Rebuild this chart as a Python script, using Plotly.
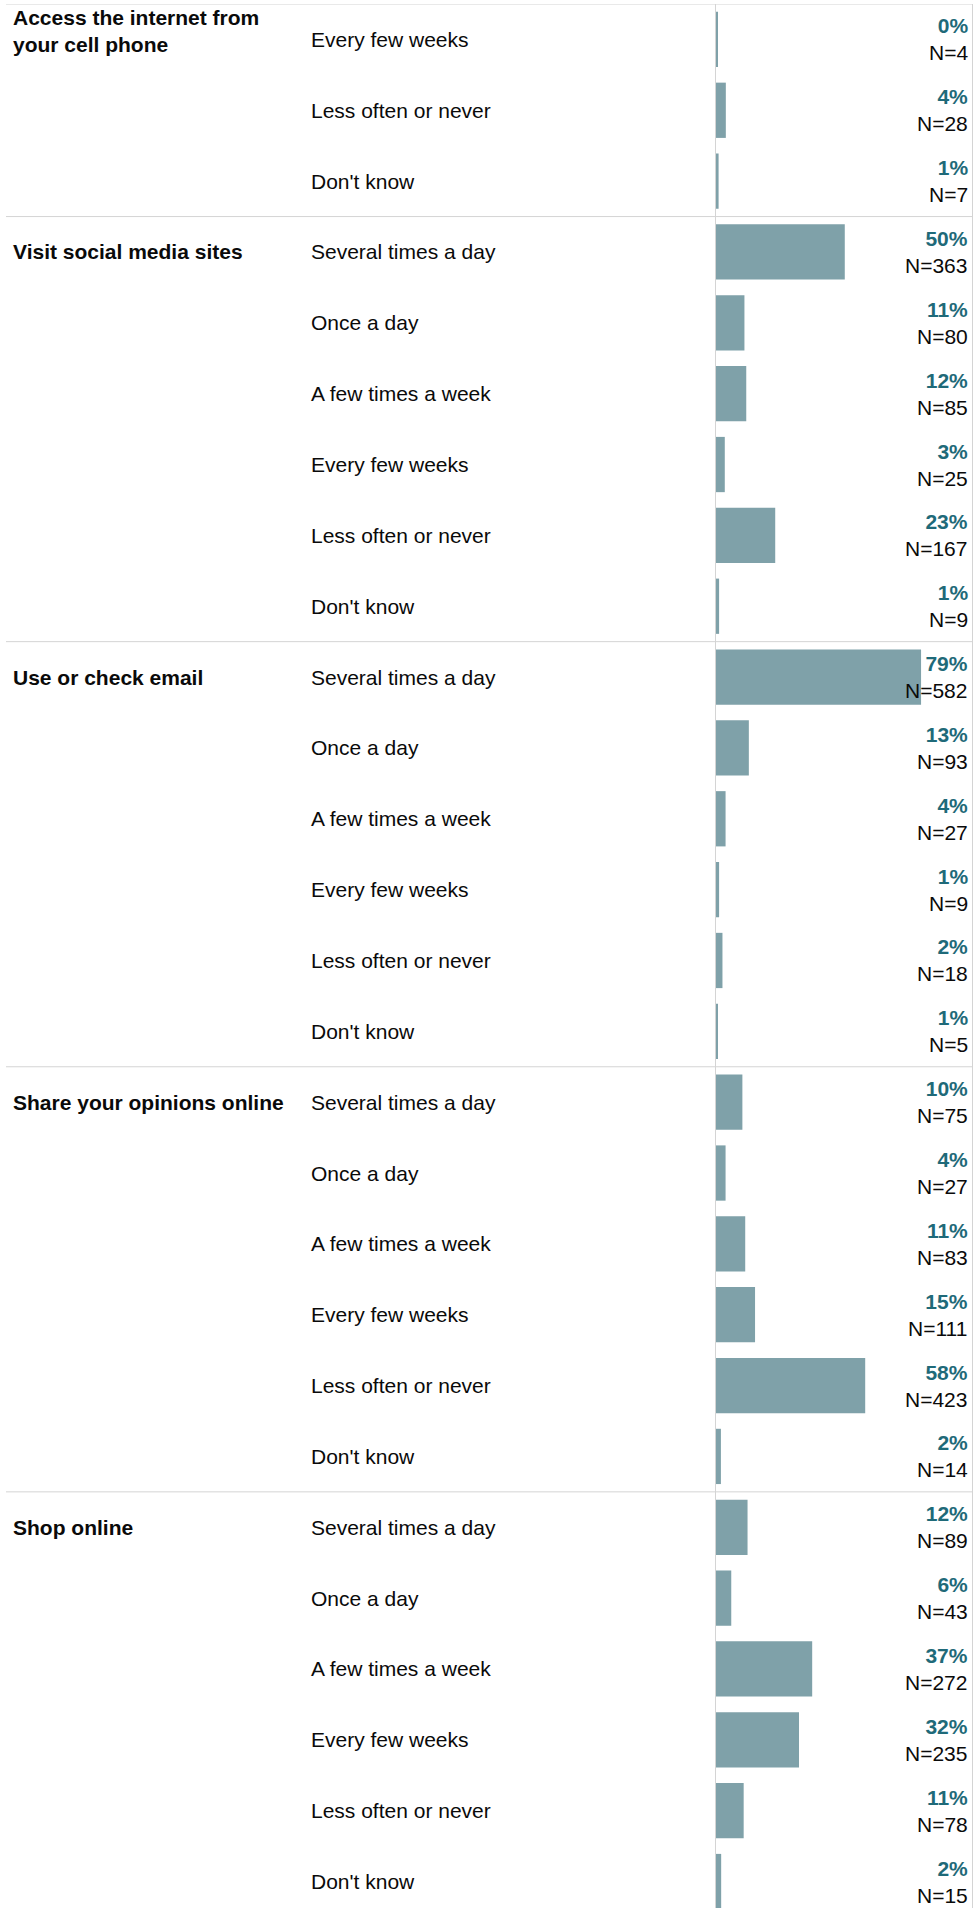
import plotly.graph_objects as go

# Grupos y respuestas (primer grupo recortado en la imagen original)
grupos = [
    "Access the internet from<br>your cell phone",
    "Visit social media sites",
    "Use or check email",
    "Share your opinions online",
    "Shop online",
]
respuestas = [
    ["Every few weeks", "Less often or never", "Don't know"],
    ["Several times a day", "Once a day", "A few times a week",
     "Every few weeks", "Less often or never", "Don't know"],
    ["Several times a day", "Once a day", "A few times a week",
     "Every few weeks", "Less often or never", "Don't know"],
    ["Several times a day", "Once a day", "A few times a week",
     "Every few weeks", "Less often or never", "Don't know"],
    ["Several times a day", "Once a day", "A few times a week",
     "Every few weeks", "Less often or never", "Don't know"],
]
# largo de barra (%) estimado de la imagen
valores = [
    [0.6, 3.8, 1.0],
    [49.8, 11.0, 11.7, 3.4, 22.9, 1.2],
    [79.3, 12.7, 3.7, 1.2, 2.5, 0.7],
    [10.2, 3.7, 11.3, 15.1, 57.7, 1.9],
    [12.2, 5.9, 37.2, 32.1, 10.7, 2.0],
]
etiquetas_pct = [
    ["0%", "4%", "1%"],
    ["50%", "11%", "12%", "3%", "23%", "1%"],
    ["79%", "13%", "4%", "1%", "2%", "1%"],
    ["10%", "4%", "11%", "15%", "58%", "2%"],
    ["12%", "6%", "37%", "32%", "11%", "2%"],
]
n_valores = [
    [4, 28, 7],
    [363, 80, 85, 25, 167, 9],
    [582, 93, 27, 9, 18, 5],
    [75, 27, 83, 111, 423, 14],
    [89, 43, 272, 235, 78, 15],
]

W, H = 975, 1908
ML, MR, MT, MB = 716, 3, 4, 0
PW = W - ML - MR
FILA = 70.85
FUENTE = "Arial, Liberation Sans, sans-serif"
COLOR_BARRA = "#7fa1a9"
COLOR_PCT = "#1f6a79"
COLOR_LINEA = "#d4d4d4"


def px_a_paper(px):
    return (px - ML) / PW


ys, xs = [], []
anotaciones = []
lineas = []
fila = 0
for g in range(len(grupos)):
    inicio = fila
    lineas.append(dict(type="line", xref="paper", yref="y",
                       x0=px_a_paper(6), x1=1, y0=inicio - 0.5, y1=inicio - 0.5,
                       line=dict(color=COLOR_LINEA, width=1), layer="above"))
    for i in range(len(respuestas[g])):
        ys.append(fila)
        xs.append(valores[g][i])
        anotaciones.append(dict(
            x=px_a_paper(309), y=fila, xref="paper", yref="y",
            text=respuestas[g][i], showarrow=False, xanchor="left", yanchor="middle",
            font=dict(family=FUENTE, size=21, color="#0a0a0a")))
        anotaciones.append(dict(
            x=1, y=fila, xref="paper", yref="y", xshift=-2,
            text="<b><span style='color:%s'>%s</span></b><br>N=%d"
                 % (COLOR_PCT, etiquetas_pct[g][i], n_valores[g][i]),
            showarrow=False, xanchor="right", yanchor="middle", align="right",
            font=dict(family=FUENTE, size=21, color="#0a0a0a")))
        fila += 1
    if g == 0:
        # el primer titulo queda pegado arriba
        anotaciones.append(dict(
            x=px_a_paper(11), y=1, xref="paper", yref="paper",
            text="<b>%s</b>" % grupos[g], showarrow=False,
            xanchor="left", yanchor="top", align="left",
            font=dict(family=FUENTE, size=21, color="#0a0a0a")))
    else:
        anotaciones.append(dict(
            x=px_a_paper(11), y=inicio, xref="paper", yref="y",
            text="<b>%s</b>" % grupos[g], showarrow=False,
            xanchor="left", yanchor="middle", align="left",
            font=dict(family=FUENTE, size=21, color="#0a0a0a")))

fig = go.Figure()
fig.add_trace(go.Bar(
    x=xs, y=ys, orientation="h", width=0.78,
    marker=dict(color=COLOR_BARRA, line=dict(width=0)),
    hoverinfo="skip",
))

visibles = (H - MT - MB) / FILA
fig.update_layout(
    width=W, height=H,
    margin=dict(l=ML, r=MR, t=MT, b=MB),
    paper_bgcolor="white", plot_bgcolor="white",
    showlegend=False,
    xaxis=dict(range=[0, 99], showgrid=False, zeroline=False,
               showticklabels=False, ticks="", showline=False),
    yaxis=dict(range=[visibles - 0.5, -0.5], showgrid=False, zeroline=False,
               showticklabels=False, ticks="", showline=True,
               linecolor=COLOR_LINEA, linewidth=1, mirror=True),
    annotations=anotaciones,
    shapes=lineas,
)

# quitar el margen por defecto del body
fig.write_html("out.html", config={"displayModeBar": False},
               post_script="document.body.style.margin='0';")
